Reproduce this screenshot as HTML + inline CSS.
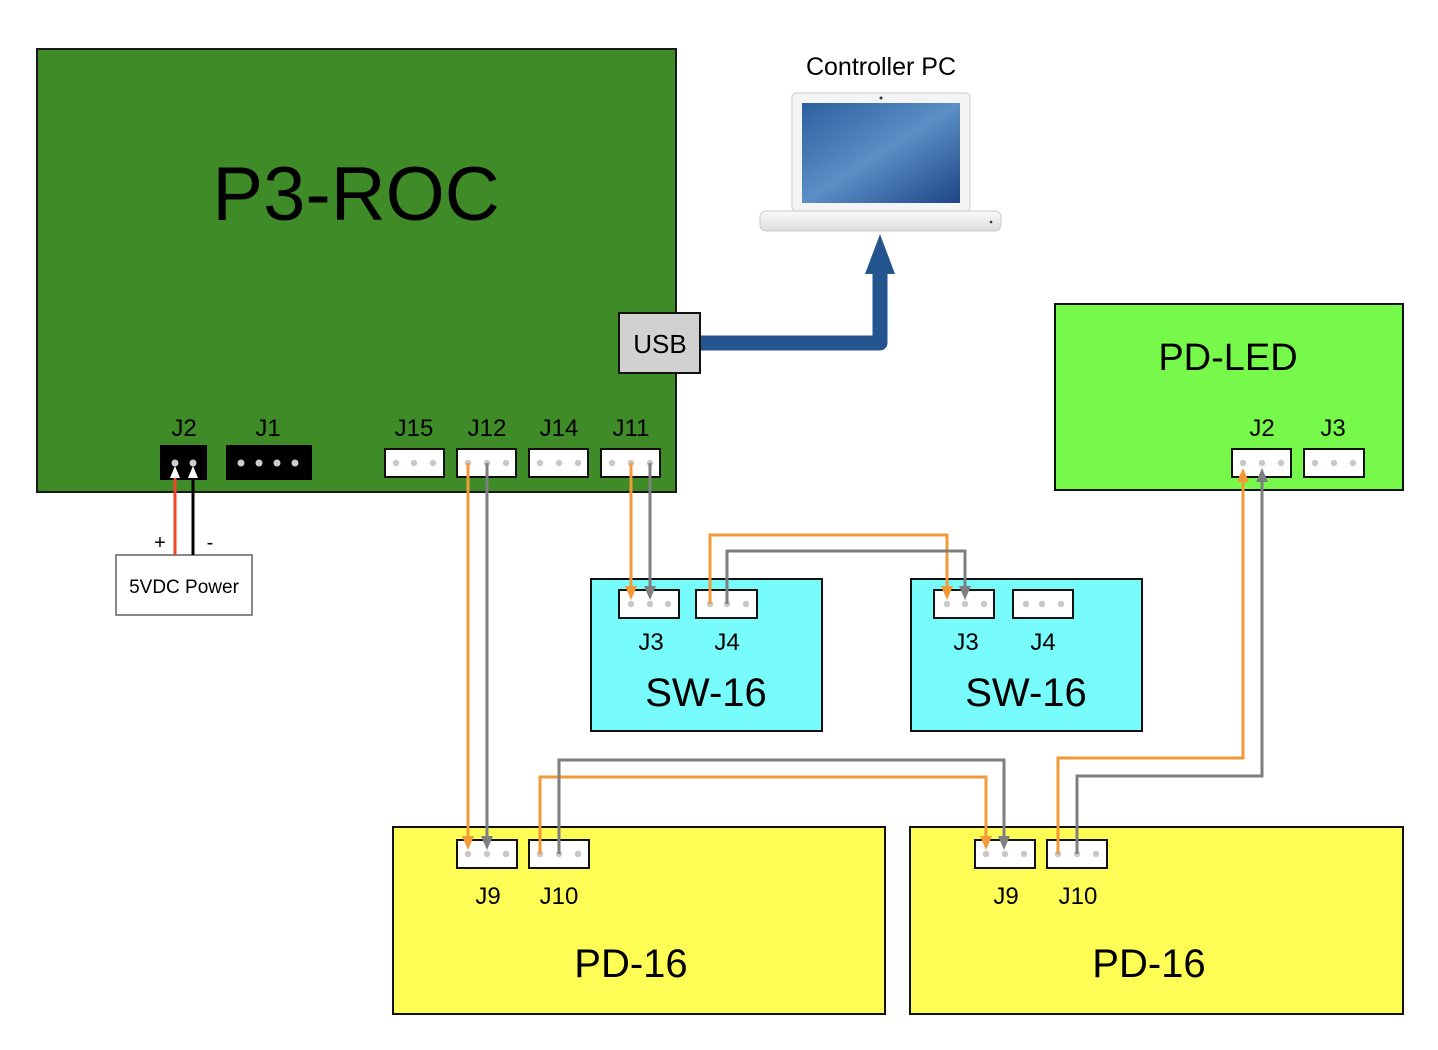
<!DOCTYPE html>
<html><head><meta charset="utf-8"><style>
html,body{margin:0;padding:0;background:#fff;}
svg{display:block;}
text{font-family:"Liberation Sans",sans-serif;fill:#000;}
</style></head><body>
<svg width="1438" height="1050" viewBox="0 0 1438 1050" xmlns="http://www.w3.org/2000/svg">
<defs>
<linearGradient id="scr" x1="0" y1="0" x2="1" y2="1"><stop offset="0" stop-color="#2d5f9e"/><stop offset="0.5" stop-color="#5b8fc6"/><stop offset="1" stop-color="#1d4585"/></linearGradient>
<linearGradient id="base" x1="0" y1="0" x2="0" y2="1"><stop offset="0" stop-color="#fafafa"/><stop offset="1" stop-color="#dcdcdc"/></linearGradient>
</defs>

<rect x="37" y="49" width="639" height="443" fill="#3e8b27" stroke="#1a1a1a" stroke-width="2"/>
<text x="356" y="220" font-size="76" text-anchor="middle">P3-ROC</text>

<g font-size="24" text-anchor="middle">
<text x="184" y="436">J2</text><text x="268" y="436">J1</text>
<text x="414" y="436">J15</text><text x="487" y="436">J12</text><text x="559" y="436">J14</text><text x="631" y="436">J11</text>
</g>
<rect x="160" y="445" width="47" height="35" fill="#000"/>
<circle cx="175" cy="463" r="3.5" fill="#ccc"/><circle cx="193" cy="463" r="3.5" fill="#ccc"/>
<rect x="226" y="445" width="86" height="35" fill="#000"/>
<g fill="#ccc"><circle cx="241" cy="463" r="3.5"/><circle cx="259" cy="463" r="3.5"/><circle cx="277" cy="463" r="3.5"/><circle cx="295" cy="463" r="3.5"/></g>

<g stroke="#111" stroke-width="2" fill="#fff">
<rect x="385" y="449" width="59" height="28"/><rect x="457" y="449" width="59" height="28"/>
<rect x="529" y="449" width="59" height="28"/><rect x="601" y="449" width="59" height="28"/>
</g>

<path d="M700,343 H880 V272" fill="none" stroke="#24558f" stroke-width="15" stroke-linejoin="round"/>
<path d="M865,274 L895,274 L880,234 z" fill="#24558f"/>
<rect x="619" y="313" width="81" height="60" fill="#d1d1d1" stroke="#111" stroke-width="2"/>
<text x="660" y="353" font-size="26" text-anchor="middle">USB</text>

<text x="881" y="75" font-size="25" text-anchor="middle">Controller PC</text>
<rect x="792" y="93" width="178" height="118" rx="4" fill="#f4f4f4" stroke="#ccc"/>
<rect x="802" y="103" width="158" height="100" fill="url(#scr)"/>
<circle cx="881" cy="98" r="1.5" fill="#333"/>
<rect x="760" y="211" width="241" height="20" rx="6" fill="url(#base)" stroke="#ccc"/>
<circle cx="991" cy="222" r="1.3" fill="#333"/>

<rect x="116" y="555" width="136" height="60" fill="#fff" stroke="#888" stroke-width="2"/>
<text x="184" y="593" font-size="19" text-anchor="middle">5VDC Power</text>
<text x="160" y="549" font-size="20" text-anchor="middle">+</text>
<text x="210" y="549" font-size="20" text-anchor="middle">-</text>
<line x1="175" y1="555" x2="175" y2="476" stroke="#f0432a" stroke-width="3"/>
<line x1="193" y1="555" x2="193" y2="476" stroke="#000" stroke-width="3"/>
<path d="M170,478 L180,478 L175,466 z" fill="#fff"/><path d="M188,478 L198,478 L193,466 z" fill="#fff"/>

<rect x="591" y="579" width="231" height="152" fill="#77fbfb" stroke="#111" stroke-width="2"/>
<rect x="911" y="579" width="231" height="152" fill="#77fbfb" stroke="#111" stroke-width="2"/>
<g font-size="24" text-anchor="middle">
<text x="651" y="650">J3</text><text x="727" y="650">J4</text>
<text x="966" y="650">J3</text><text x="1043" y="650">J4</text>
</g>
<g font-size="40" text-anchor="middle"><text x="706" y="706">SW-16</text><text x="1026" y="706">SW-16</text></g>
<g stroke="#111" stroke-width="2" fill="#fff">
<rect x="619" y="590" width="60" height="28"/><rect x="696" y="590" width="61" height="28"/>
<rect x="934" y="590" width="60" height="28"/><rect x="1013" y="590" width="60" height="28"/>
</g>

<rect x="1055" y="304" width="348" height="186" fill="#77f94c" stroke="#111" stroke-width="2"/>
<text x="1228" y="370" font-size="38" text-anchor="middle">PD-LED</text>
<g font-size="24" text-anchor="middle"><text x="1262" y="436">J2</text><text x="1333" y="436">J3</text></g>
<g stroke="#111" stroke-width="2" fill="#fff">
<rect x="1232" y="449" width="59" height="28"/><rect x="1304" y="449" width="60" height="28"/>
</g>

<rect x="393" y="827" width="492" height="187" fill="#fefd55" stroke="#111" stroke-width="2"/>
<rect x="910" y="827" width="493" height="187" fill="#fefd55" stroke="#111" stroke-width="2"/>
<g font-size="24" text-anchor="middle">
<text x="488" y="904">J9</text><text x="559" y="904">J10</text>
<text x="1006" y="904">J9</text><text x="1078" y="904">J10</text>
</g>
<g font-size="40" text-anchor="middle"><text x="631" y="977">PD-16</text><text x="1149" y="977">PD-16</text></g>
<g stroke="#111" stroke-width="2" fill="#fff">
<rect x="457" y="840" width="60" height="28"/><rect x="529" y="840" width="60" height="28"/>
<rect x="975" y="840" width="60" height="28"/><rect x="1047" y="840" width="60" height="28"/>
</g>

<g fill="#c8c8c8">
<circle cx="396" cy="463" r="3.2"/><circle cx="414" cy="463" r="3.2"/><circle cx="433" cy="463" r="3.2"/>
<circle cx="468" cy="463" r="3.2"/><circle cx="487" cy="463" r="3.2"/><circle cx="506" cy="463" r="3.2"/>
<circle cx="540" cy="463" r="3.2"/><circle cx="559" cy="463" r="3.2"/><circle cx="578" cy="463" r="3.2"/>
<circle cx="612" cy="463" r="3.2"/><circle cx="631" cy="463" r="3.2"/><circle cx="650" cy="463" r="3.2"/>
<circle cx="1243" cy="463" r="3.2"/><circle cx="1262" cy="463" r="3.2"/><circle cx="1281" cy="463" r="3.2"/>
<circle cx="1315" cy="463" r="3.2"/><circle cx="1334" cy="463" r="3.2"/><circle cx="1353" cy="463" r="3.2"/>
<circle cx="631" cy="604" r="3.2"/><circle cx="650" cy="604" r="3.2"/><circle cx="668" cy="604" r="3.2"/>
<circle cx="710" cy="604" r="3.2"/><circle cx="727" cy="604" r="3.2"/><circle cx="746" cy="604" r="3.2"/>
<circle cx="947" cy="604" r="3.2"/><circle cx="965" cy="604" r="3.2"/><circle cx="984" cy="604" r="3.2"/>
<circle cx="1026" cy="604" r="3.2"/><circle cx="1042" cy="604" r="3.2"/><circle cx="1061" cy="604" r="3.2"/>
<circle cx="468" cy="854" r="3.2"/><circle cx="487" cy="854" r="3.2"/><circle cx="506" cy="854" r="3.2"/>
<circle cx="540" cy="854" r="3.2"/><circle cx="559" cy="854" r="3.2"/><circle cx="578" cy="854" r="3.2"/>
<circle cx="986" cy="854" r="3.2"/><circle cx="1005" cy="854" r="3.2"/><circle cx="1024" cy="854" r="3.2"/>
<circle cx="1058" cy="854" r="3.2"/><circle cx="1077" cy="854" r="3.2"/><circle cx="1096" cy="854" r="3.2"/>
</g>

<g fill="none" stroke-width="3" stroke-linejoin="miter">
<path d="M468,463 V838" stroke="#f29a38"/>
<path d="M487,463 V838" stroke="#7f7f7f"/>
<path d="M631,463 V588" stroke="#f29a38"/>
<path d="M650,463 V588" stroke="#7f7f7f"/>
<path d="M710,604 V535 H947 V588" stroke="#f29a38"/>
<path d="M727,604 V551 H965 V588" stroke="#7f7f7f"/>
<path d="M540,854 V777 H986 V838" stroke="#f29a38"/>
<path d="M559,854 V760 H1004 V838" stroke="#7f7f7f"/>
<path d="M1058,854 V758 H1243 V480" stroke="#f29a38"/>
<path d="M1077,854 V776 H1262 V480" stroke="#7f7f7f"/>
</g>
<g>
<path d="M462,836 L474,836 L468,850 z" fill="#f29a38"/>
<path d="M481,836 L493,836 L487,850 z" fill="#7f7f7f"/>
<path d="M625,586 L637,586 L631,600 z" fill="#f29a38"/>
<path d="M644,586 L656,586 L650,600 z" fill="#7f7f7f"/>
<path d="M941,586 L953,586 L947,600 z" fill="#f29a38"/>
<path d="M959,586 L971,586 L965,600 z" fill="#7f7f7f"/>
<path d="M980,836 L992,836 L986,850 z" fill="#f29a38"/>
<path d="M998,836 L1010,836 L1004,850 z" fill="#7f7f7f"/>
<path d="M1237,482 L1249,482 L1243,468 z" fill="#f29a38"/>
<path d="M1256,482 L1268,482 L1262,468 z" fill="#7f7f7f"/>
</g>
</svg>
</body></html>
